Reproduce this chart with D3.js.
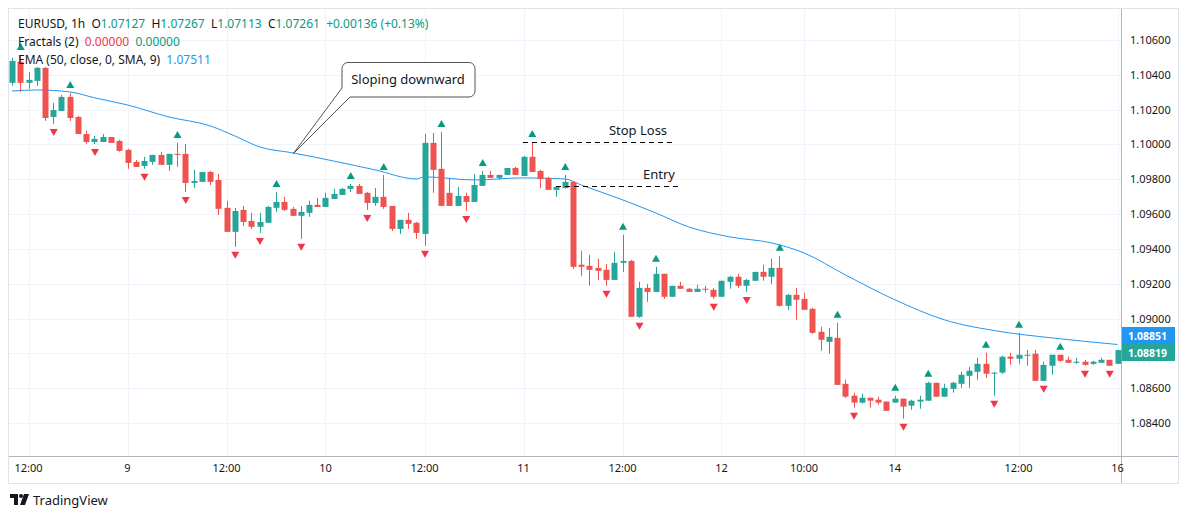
<!DOCTYPE html>
<html>
<head>
<meta charset="utf-8">
<script src="https://cdn.jsdelivr.net/npm/d3@7"></script>
<style>
  body { margin: 0; background: #ffffff; }
  svg { font-family: "Noto Sans", "DejaVu Sans", sans-serif; }
</style>
</head>
<body>
<svg id="chart" width="1189" height="519"></svg>
<script>
// OHLC candles, 1h EURUSD
const opens = [1.10354,1.10475,1.10354,1.10365,1.10440,1.10158,1.10192,1.10273,1.10158,1.10060,1.10014,1.10014,1.10043,1.10020,1.09969,1.09900,1.09877,1.09900,1.09940,1.09883,1.09946,1.09946,1.09779,1.09785,1.09842,1.09796,1.09636,1.09498,1.09624,1.09561,1.09527,1.09550,1.09636,1.09670,1.09630,1.09590,1.09607,1.09653,1.09641,1.09687,1.09710,1.09745,1.09762,1.09722,1.09664,1.09699,1.09647,1.09515,1.09567,1.09550,1.09486,1.10009,1.09860,1.09722,1.09647,1.09704,1.09670,1.09762,1.09825,1.09808,1.09825,1.09865,1.09819,1.09929,1.09848,1.09808,1.09739,1.09750,1.09785,1.09309,1.09303,1.09291,1.09280,1.09222,1.09320,1.09331,1.09010,1.09176,1.09153,1.09257,1.09125,1.09188,1.09171,1.09153,1.09171,1.09165,1.09125,1.09211,1.09240,1.09188,1.09217,1.09268,1.09240,1.09291,1.09073,1.09136,1.09113,1.09056,1.08924,1.08866,1.08889,1.08625,1.08557,1.08517,1.08545,1.08534,1.08523,1.08517,1.08540,1.08500,1.08523,1.08528,1.08631,1.08551,1.08596,1.08625,1.08671,1.08694,1.08740,1.08683,1.08689,1.08781,1.08769,1.08786,1.08798,1.08642,1.08729,1.08792,1.08763,1.08746,1.08752,1.08740,1.08746,1.08763,1.08740];
const highs = [1.10497,1.10514,1.10417,1.10445,1.10445,1.10239,1.10284,1.10296,1.10164,1.10078,1.10049,1.10060,1.10043,1.10026,1.09975,1.09911,1.09929,1.09940,1.09958,1.09946,1.10009,1.10003,1.09854,1.09842,1.09848,1.09831,1.09676,1.09636,1.09647,1.09607,1.09607,1.09647,1.09727,1.09699,1.09641,1.09647,1.09676,1.09693,1.09722,1.09745,1.09750,1.09773,1.09773,1.09727,1.09750,1.09825,1.09647,1.09567,1.09607,1.09555,1.10060,1.10066,1.10072,1.09808,1.09756,1.09722,1.09831,1.09848,1.09848,1.09825,1.09865,1.09871,1.09934,1.10014,1.09854,1.09814,1.09756,1.09825,1.09790,1.09389,1.09366,1.09343,1.09314,1.09383,1.09481,1.09337,1.09211,1.09199,1.09297,1.09257,1.09188,1.09211,1.09176,1.09194,1.09188,1.09176,1.09217,1.09246,1.09257,1.09228,1.09268,1.09309,1.09343,1.09360,1.09142,1.09176,1.09148,1.09062,1.08953,1.08947,1.08976,1.08648,1.08574,1.08568,1.08545,1.08551,1.08523,1.08557,1.08540,1.08534,1.08557,1.08637,1.08631,1.08625,1.08637,1.08694,1.08723,1.08775,1.08804,1.08694,1.08786,1.08804,1.08918,1.08821,1.08821,1.08752,1.08792,1.08792,1.08781,1.08775,1.08763,1.08757,1.08775,1.08763,1.08821];
const lows = [1.10337,1.10302,1.10319,1.10337,1.10135,1.10118,1.10192,1.10135,1.10060,1.10003,1.10003,1.10014,1.10009,1.09958,1.09860,1.09871,1.09860,1.09883,1.09883,1.09848,1.09871,1.09727,1.09750,1.09785,1.09767,1.09595,1.09498,1.09412,1.09532,1.09515,1.09492,1.09550,1.09613,1.09618,1.09590,1.09458,1.09584,1.09641,1.09641,1.09687,1.09710,1.09727,1.09716,1.09624,1.09647,1.09630,1.09503,1.09486,1.09515,1.09458,1.09418,1.09722,1.09647,1.09647,1.09647,1.09618,1.09670,1.09762,1.09808,1.09796,1.09825,1.09825,1.09819,1.09842,1.09750,1.09739,1.09699,1.09745,1.09285,1.09246,1.09188,1.09222,1.09188,1.09222,1.09268,1.09010,1.09004,1.09096,1.09153,1.09113,1.09125,1.09171,1.09153,1.09153,1.09148,1.09113,1.09125,1.09171,1.09176,1.09153,1.09217,1.09217,1.09199,1.09068,1.09050,1.08993,1.09050,1.08913,1.08815,1.08798,1.08619,1.08545,1.08488,1.08511,1.08488,1.08505,1.08470,1.08517,1.08425,1.08476,1.08482,1.08528,1.08551,1.08551,1.08574,1.08602,1.08602,1.08648,1.08660,1.08557,1.08683,1.08734,1.08740,1.08729,1.08642,1.08642,1.08677,1.08752,1.08746,1.08740,1.08729,1.08734,1.08746,1.08729,1.08740];
const closes = [1.10480,1.10354,1.10371,1.10440,1.10152,1.10198,1.10273,1.10152,1.10060,1.10014,1.10032,1.10043,1.10009,1.09963,1.09894,1.09871,1.09905,1.09940,1.09883,1.09946,1.09940,1.09779,1.09790,1.09842,1.09785,1.09630,1.09498,1.09618,1.09555,1.09527,1.09555,1.09641,1.09670,1.09624,1.09590,1.09613,1.09653,1.09641,1.09693,1.09716,1.09745,1.09762,1.09716,1.09664,1.09699,1.09641,1.09515,1.09567,1.09544,1.09492,1.10009,1.09854,1.09647,1.09647,1.09704,1.09670,1.09767,1.09825,1.09808,1.09825,1.09865,1.09825,1.09929,1.09842,1.09802,1.09739,1.09756,1.09785,1.09297,1.09297,1.09280,1.09274,1.09222,1.09320,1.09331,1.09010,1.09176,1.09153,1.09257,1.09125,1.09188,1.09171,1.09153,1.09171,1.09165,1.09125,1.09217,1.09240,1.09188,1.09222,1.09268,1.09240,1.09291,1.09073,1.09136,1.09108,1.09050,1.08918,1.08878,1.08895,1.08619,1.08551,1.08517,1.08545,1.08528,1.08517,1.08470,1.08540,1.08494,1.08528,1.08534,1.08631,1.08551,1.08602,1.08631,1.08677,1.08700,1.08740,1.08683,1.08689,1.08781,1.08769,1.08792,1.08792,1.08642,1.08734,1.08792,1.08757,1.08746,1.08752,1.08734,1.08752,1.08763,1.08729,1.08819];

// Fractal markers (candle indices)
const fractalUp = [1,7,20,32,41,45,52,57,63,67,74,78,93,100,107,111,118,122,127];
const fractalDown = [5,10,16,21,27,30,35,43,50,55,72,76,85,89,102,108,119,125,130,133];

// EMA(50) read at points along the line: [candle index, value]
const emaIdx = [0,3,7,10,14,19,24,27,30,34,44,49,50,56,62,67,69,74,78,82,87,92,96,101,107,113,120,126,134];
const emaVal = [1.10307,1.10313,1.10302,1.10268,1.10227,1.10158,1.10107,1.10049,1.09986,1.09952,1.09854,1.09802,1.09814,1.09796,1.09808,1.09802,1.09767,1.09682,1.09607,1.09527,1.09469,1.09435,1.09377,1.09251,1.09108,1.08993,1.08924,1.08889,1.08851];

const timeTickIdx = [2,14,26,38,50,62,74,86,96,107,122,134];
const timeTickLabels = ["12:00","9","12:00","10","12:00","11","12:00","12","10:00","14","12:00","16"];
const priceTicks = [1.084,1.086,1.088,1.090,1.092,1.094,1.096,1.098,1.100,1.102,1.104,1.106];

const UP = "#26a69a", DOWN = "#ef5350", GRID = "#f0f3fa", TEXT = "#131722";

const svg = d3.select("#chart");
const x = d3.scaleLinear().domain([0, 134]).range([12, 1117.5]);
const y = d3.scaleLinear().domain([1.084, 1.106]).range([423, 40]);
const plotRight = 1121, plotBottom = 456;

// value tags on the price scale
const lastEma = emaVal[emaVal.length - 1], lastClose = closes[closes.length - 1];
const tags = [[335.5, "#2196f3", lastEma.toFixed(5)], [352.5, UP, lastClose.toFixed(5)]];

// frame
svg.append("rect").attr("x", 8.5).attr("y", 8.5).attr("width", 1170).attr("height", 475)
  .attr("fill", "none").attr("stroke", "#e0e3eb");

const grid = svg.append("g");
grid.selectAll("line.h").data(priceTicks).join("line")
  .attr("x1", 9).attr("x2", plotRight).attr("y1", d => Math.round(y(d)) + 0.5).attr("y2", d => Math.round(y(d)) + 0.5)
  .attr("stroke", GRID);
grid.selectAll("line.v").data(timeTickIdx).join("line")
  .attr("x1", d => Math.round(x(d)) + 0.5).attr("x2", d => Math.round(x(d)) + 0.5)
  .attr("y1", 9).attr("y2", plotBottom).attr("stroke", GRID);

// axes lines
svg.append("line").attr("x1", plotRight + 0.5).attr("x2", plotRight + 0.5).attr("y1", 9).attr("y2", 483)
  .attr("stroke", "#b2b5be");
svg.append("line").attr("x1", 9).attr("x2", 1178).attr("y1", plotBottom + 0.5).attr("y2", plotBottom + 0.5)
  .attr("stroke", "#b2b5be");

// price axis labels (the ones hidden under a value tag are skipped)
svg.append("g").selectAll("text")
  .data(priceTicks.filter(d => tags.every(t => Math.abs(y(d) - t[0]) > 12)))
  .join("text")
  .attr("x", 1130).attr("y", d => y(d) + 4)
  .attr("fill", TEXT).style("font-size", "11px")
  .text(d => d.toFixed(5));

// time axis labels
svg.append("g").selectAll("text").data(timeTickIdx).join("text")
  .attr("x", d => x(d)).attr("y", 472).attr("text-anchor", "middle")
  .attr("fill", TEXT).style("font-size", "11px")
  .text((d, i) => timeTickLabels[i]);

// EMA line
const emaPts = emaIdx.map((d, i) => [d, emaVal[i]]);
svg.append("path")
  .attr("d", d3.line().x(d => x(d[0])).y(d => y(d[1])).curve(d3.curveMonotoneX)(emaPts))
  .attr("fill", "none").attr("stroke", "#2196f3").attr("stroke-width", 1);

// candles
const idx = d3.range(opens.length);
const candles = svg.append("g").selectAll("g").data(idx).join("g");
candles.append("line")
  .attr("x1", i => Math.round(x(i)) + 0.5).attr("x2", i => Math.round(x(i)) + 0.5)
  .attr("y1", i => y(highs[i])).attr("y2", i => y(lows[i]))
  .attr("stroke", i => closes[i] >= opens[i] ? UP : DOWN);
candles.append("rect")
  .attr("x", i => Math.round(x(i)) - 2.5).attr("width", 6)
  .attr("y", i => y(Math.max(opens[i], closes[i])))
  .attr("height", i => Math.max(1, Math.abs(y(opens[i]) - y(closes[i]))))
  .attr("fill", i => closes[i] >= opens[i] ? UP : DOWN);

// fractals
svg.append("g").selectAll("path").data(fractalUp).join("path")
  .attr("d", i => { const cx = x(i) + 0.5, cy = y(highs[i]) - 8; return `M${cx - 4},${cy + 3}L${cx + 4},${cy + 3}L${cx},${cy - 4}Z`; })
  .attr("fill", "#089981");
svg.append("g").selectAll("path").data(fractalDown).join("path")
  .attr("d", i => { const cx = x(i) + 0.5, cy = y(lows[i]) + 8; return `M${cx - 4},${cy - 3}L${cx + 4},${cy - 3}L${cx},${cy + 4}Z`; })
  .attr("fill", "#f23645");

tags.forEach(([yc, fill, label]) => {
  svg.append("rect").attr("x", plotRight + 1).attr("y", yc - 8.5).attr("width", 53).attr("height", 17).attr("fill", fill);
  svg.append("text").attr("x", 1147.5).attr("y", yc + 4).attr("text-anchor", "middle").attr("fill", "#fff")
    .style("font-size", "10.5px").style("font-weight", "bold").text(label);
});

// legend
const legend = svg.append("g").style("font-size", "12px");
function legendLine(yy, parts) {
  const t = legend.append("text").attr("x", 18).attr("y", yy).attr("xml:space", "preserve");
  parts.forEach(p => t.append("tspan").attr("fill", p[1]).text(p[0]));
}
legendLine(28, [["EURUSD, 1h  O", TEXT], ["1.07127", "#089981"], ["  H", TEXT], ["1.07267", "#089981"],
  ["  L", TEXT], ["1.07113", "#089981"], ["  C", TEXT], ["1.07261", "#089981"], ["  +0.00136 (+0.13%)", "#089981"]]);
legendLine(46, [["Fractals (2)  ", TEXT], ["0.00000", "#f23645"], ["  ", TEXT], ["0.00000", "#089981"]]);
legendLine(64, [["EMA (50, close, 0, SMA, 9)  ", TEXT], ["1.07511", "#2196f3"]]);

// callout "Sloping downward"
svg.append("path")
  .attr("d", "M348,62.5H469a6,6 0 0 1 6,6V91a6,6 0 0 1 -6,6H350L293,154L342,88V68.5a6,6 0 0 1 6,-6Z")
  .attr("fill", "#fff").attr("stroke", "#555").attr("stroke-width", 1);
svg.append("text").attr("x", 408).attr("y", 84).attr("text-anchor", "middle")
  .attr("fill", TEXT).style("font-size", "13px").text("Sloping downward");

// stop loss / entry
svg.append("line").attr("x1", 523).attr("x2", 672).attr("y1", 142.5).attr("y2", 142.5)
  .attr("stroke", "#000").attr("stroke-dasharray", "5,4");
svg.append("text").attr("x", 638).attr("y", 135).attr("text-anchor", "middle").attr("fill", TEXT)
  .style("font-size", "13px").text("Stop Loss");
svg.append("line").attr("x1", 556).attr("x2", 681).attr("y1", 186.5).attr("y2", 186.5)
  .attr("stroke", "#000").attr("stroke-dasharray", "5,4");
svg.append("text").attr("x", 659).attr("y", 179).attr("text-anchor", "middle").attr("fill", TEXT)
  .style("font-size", "13px").text("Entry");

// TradingView logo
const logo = svg.append("g").attr("transform", "translate(10,494)");
logo.append("path").attr("d", "M0,0H8V11H4V4H0Z").attr("fill", "#131722");
logo.append("circle").attr("cx", 11).attr("cy", 2).attr("r", 2).attr("fill", "#131722");
logo.append("path").attr("d", "M14,0H19L15,11H10Z").attr("fill", "#131722");
svg.append("text").attr("x", 33).attr("y", 505).attr("fill", TEXT).style("font-size", "13px").text("TradingView");
</script>
</body>
</html>
